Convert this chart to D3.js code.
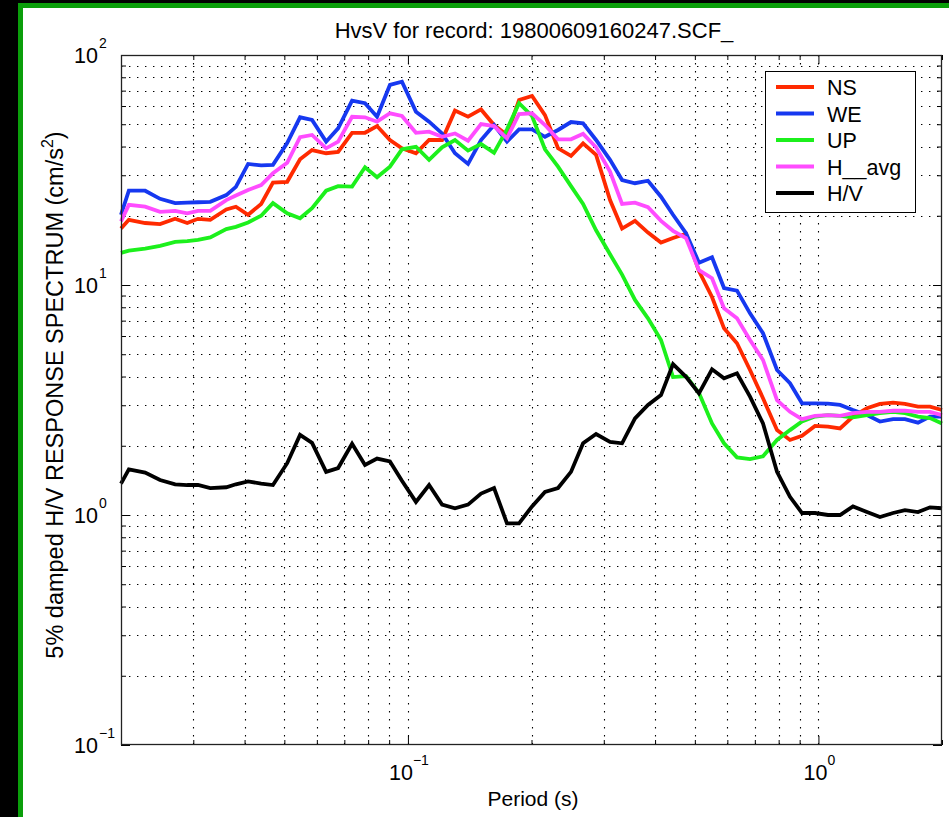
<!DOCTYPE html>
<html><head><meta charset="utf-8">
<script src="https://cdn.jsdelivr.net/npm/d3@7"></script>
<style>
body{margin:0;background:#000;}
svg{display:block;}
text{font-family:"Liberation Sans",Arial,Helvetica,sans-serif;fill:#000;}
</style>
</head><body>
<svg id="c" width="949" height="817"></svg>
<script>
// ---- data ----
const periods = [0.0200,0.0209,0.0229,0.0249,0.0271,0.0290,0.0308,0.0330,0.0361,0.0381,0.0408,0.0439,0.0469,0.0508,0.0546,0.0584,0.0632,0.0676,0.0731,0.0786,0.0841,0.0904,0.0967,0.1046,0.1126,0.1211,0.1302,0.1401,0.1507,0.1621,0.1743,0.1865,0.2006,0.2157,0.2321,0.2496,0.2671,0.2873,0.3107,0.3324,0.3574,0.3844,0.4135,0.4424,0.4758,0.5117,0.5505,0.5889,0.6333,0.6813,0.7328,0.7927,0.8525,0.9121,0.9810,1.055,1.129,1.214,1.313,1.412,1.520,1.625,1.748,1.870,2.000];
const NS = [17.6,19.2,18.6,18.4,19.4,18.6,19.4,19.2,21.3,21.9,20.2,22.5,27.9,28.1,35.2,38.6,37.4,37.9,45.9,45.9,49.1,42.7,39.3,37.4,42.7,42.7,57.3,53.9,58.0,49.6,44.9,63.7,66.3,54.8,39.3,36.4,41.3,36.8,23.4,17.6,19.0,16.9,15.3,16.0,16.7,11.5,8.87,6.48,5.58,4.27,3.22,2.34,2.12,2.21,2.44,2.42,2.38,2.68,2.91,3.04,3.08,3.04,2.96,2.96,2.86];
const WE = [20.2,25.7,25.7,23.7,22.7,22.8,22.9,23.0,24.6,26.7,33.6,33.1,33.3,41.4,53.6,52.2,42.0,48.0,63.3,61.7,53.9,74.1,76.5,56.7,51.3,45.6,37.4,33.6,42.7,49.6,42.0,47.5,47.5,44.1,47.2,51.1,50.5,42.7,35.0,28.6,27.7,28.4,24.2,20.2,16.8,12.5,13.2,9.70,9.45,7.53,6.17,4.27,3.74,3.06,3.06,3.05,3.01,2.86,2.72,2.55,2.61,2.61,2.52,2.68,2.68];
const UP = [13.8,14.1,14.4,14.8,15.4,15.5,15.7,16.1,17.5,17.9,18.7,20.0,22.7,20.5,19.5,21.6,25.7,26.9,26.8,32.5,29.4,32.7,38.9,39.9,35.0,39.7,42.7,38.4,41.0,37.6,47.5,61.7,54.3,38.9,32.7,26.9,22.5,17.3,13.6,11.1,8.61,7.16,5.77,3.98,4.02,3.39,2.50,2.05,1.78,1.75,1.80,2.12,2.34,2.55,2.68,2.72,2.70,2.66,2.72,2.77,2.81,2.77,2.68,2.64,2.50];
const H_avg = [18.9,22.3,21.9,20.8,21.0,20.5,21.0,21.0,23.4,24.5,25.9,27.2,30.6,34.0,43.9,44.9,39.3,42.0,53.9,53.6,51.3,55.8,54.3,45.9,46.4,44.1,45.6,42.4,50.1,49.1,43.4,55.4,55.8,49.6,43.0,43.0,45.4,39.7,31.1,22.5,22.8,21.8,19.0,17.2,16.0,11.6,10.7,7.92,7.16,5.77,4.72,3.16,2.81,2.61,2.70,2.72,2.70,2.77,2.81,2.81,2.84,2.84,2.81,2.81,2.72];
const HV = [1.37,1.58,1.53,1.42,1.36,1.35,1.35,1.31,1.32,1.36,1.40,1.37,1.35,1.68,2.23,2.06,1.54,1.60,2.04,1.65,1.76,1.71,1.41,1.14,1.35,1.11,1.07,1.11,1.24,1.31,0.92,0.92,1.09,1.26,1.31,1.54,2.05,2.25,2.08,2.05,2.63,3.01,3.32,4.53,3.99,3.38,4.30,3.93,4.13,3.27,2.50,1.54,1.20,1.02,1.02,1.00,1.00,1.09,1.03,0.98,1.02,1.05,1.03,1.08,1.07];
const seriesNames = ["NS","WE","UP","H__avg","H/V"];
const seriesColors = ["#ff2a00","#1638f0","#1cf01c","#ff4cff","#000000"];
const xMajorExp = ["−1","0"];
const yMajorExp = ["−1","0","1","2"];
const titleText = "HvsV for record: 19800609160247.SCF_";
const xLabelText = "Period (s)";

// ---- drawing ----
const svg = d3.select("#c");
svg.append("rect").attr("width",949).attr("height",817).attr("fill","#000");
svg.append("rect").attr("x",18).attr("y",3).attr("width",931).attr("height",814).attr("fill","#0a9e0a");
svg.append("rect").attr("x",23).attr("y",8).attr("width",926).attr("height",809).attr("fill","#fff");

const L=121,R=942,T=55,B=745;
const x = d3.scaleLog().domain([0.02,2]).range([L,R]);
const y = d3.scaleLog().domain([0.1,100]).range([B,T]);
const xt = x.ticks(), yt = y.ticks();
const isMajor = v => Math.abs(Math.log10(v)-Math.round(Math.log10(v)))<1e-9;

// grid
const grid = svg.append("g").attr("stroke","#000").attr("stroke-width",1.1).attr("stroke-dasharray","1.4,6.6");
grid.selectAll("line.gx").data(xt.filter(v=>x(v)>L+1&&x(v)<R-1)).join("line").attr("class","gx")
  .attr("x1",d=>Math.round(x(d))+0.5).attr("x2",d=>Math.round(x(d))+0.5).attr("y1",T).attr("y2",B);
grid.selectAll("line.gy").data(yt.filter(v=>y(v)>T+1&&y(v)<B-1)).join("line").attr("class","gy")
  .attr("y1",d=>Math.round(y(d))+0.5).attr("y2",d=>Math.round(y(d))+0.5).attr("x1",L).attr("x2",R);

// ticks via axis generators
function ticks(gen, vals, size, tr){
  const g = svg.append("g").attr("transform",tr).call(gen.tickValues(vals).tickSize(size).tickFormat(""));
  g.select(".domain").remove();
  g.selectAll("line").attr("stroke","#000").attr("stroke-width",1);
}
const xMin = xt.filter(v=>!isMajor(v)), xMaj = xt.filter(isMajor);
const yMin = yt.filter(v=>!isMajor(v)), yMaj = yt.filter(isMajor);
ticks(d3.axisBottom(x), xMin, -5, `translate(0,${B})`);
ticks(d3.axisBottom(x), xMaj, -9, `translate(0,${B})`);
ticks(d3.axisTop(x), xMin, -5, `translate(0,${T})`);
ticks(d3.axisTop(x), xMaj, -9, `translate(0,${T})`);
ticks(d3.axisLeft(y), yMin, -5, `translate(${L},0)`);
ticks(d3.axisLeft(y), yMaj, -9, `translate(${L},0)`);
ticks(d3.axisRight(y), yMin, -5, `translate(${R},0)`);
ticks(d3.axisRight(y), yMaj, -9, `translate(${R},0)`);

// curves
const allSeries = [NS,WE,UP,H_avg,HV];
const line = d3.line().x(d=>x(d[0])).y(d=>y(d[1]));
allSeries.forEach((s,i)=>{
  svg.append("path").datum(periods.map((p,k)=>[p,s[k]]))
    .attr("d",line).attr("fill","none").attr("stroke",seriesColors[i])
    .attr("stroke-width",3.8).attr("stroke-linejoin","miter").attr("stroke-miterlimit",3);
});

// box
svg.append("rect").attr("x",L+0.5).attr("y",T+0.5).attr("width",R-L-1).attr("height",B-T-1)
  .attr("fill","none").attr("stroke","#222").attr("stroke-width",1.3);

// tick labels
const FS = 21.5, SFS = 14;
xMaj.forEach((v,i)=>{
  const t = svg.append("text").attr("x",x(v)+1).attr("y",780).attr("text-anchor","middle").attr("font-size",FS);
  t.append("tspan").text("10");
  t.append("tspan").attr("dy",-15).attr("font-size",SFS).text(xMajorExp[i]);
});
yMaj.forEach((v,i)=>{
  svg.append("text").attr("x",98).attr("y",y(v)+8).attr("text-anchor","end").attr("font-size",FS).text("10");
  svg.append("text").attr("x",99).attr("y",y(v)-7).attr("font-size",SFS).text(yMajorExp[i]);
});

// title & axis labels
svg.append("text").attr("x",534).attr("y",38).attr("text-anchor","middle").attr("font-size",22).text(titleText);
svg.append("text").attr("x",533).attr("y",806).attr("text-anchor","middle").attr("font-size",21).text(xLabelText);
const yl = svg.append("text").attr("transform","translate(63,395) rotate(-90)").attr("text-anchor","middle").attr("font-size",23.5);
yl.append("tspan").text("5% damped H/V RESPONSE SPECTRUM (cm/s");
yl.append("tspan").attr("dy",-10).attr("font-size",16).text("2");
yl.append("tspan").attr("dy",10).text(")");

// legend
const lg = svg.append("g");
lg.append("rect").attr("x",765.5).attr("y",71.5).attr("width",150).attr("height",141).attr("fill","#fff").attr("stroke","#000").attr("stroke-width",1);
const rowY = d3.scalePoint().domain(seriesNames).range([87,193]);
seriesNames.forEach((n,i)=>{
  lg.append("line").attr("x1",776).attr("x2",814).attr("y1",rowY(n)).attr("y2",rowY(n))
    .attr("stroke",seriesColors[i]).attr("stroke-width",3.8);
  lg.append("text").attr("x",827).attr("y",rowY(n)+8).attr("font-size",21.5).text(n);
});
</script>
</body></html>
